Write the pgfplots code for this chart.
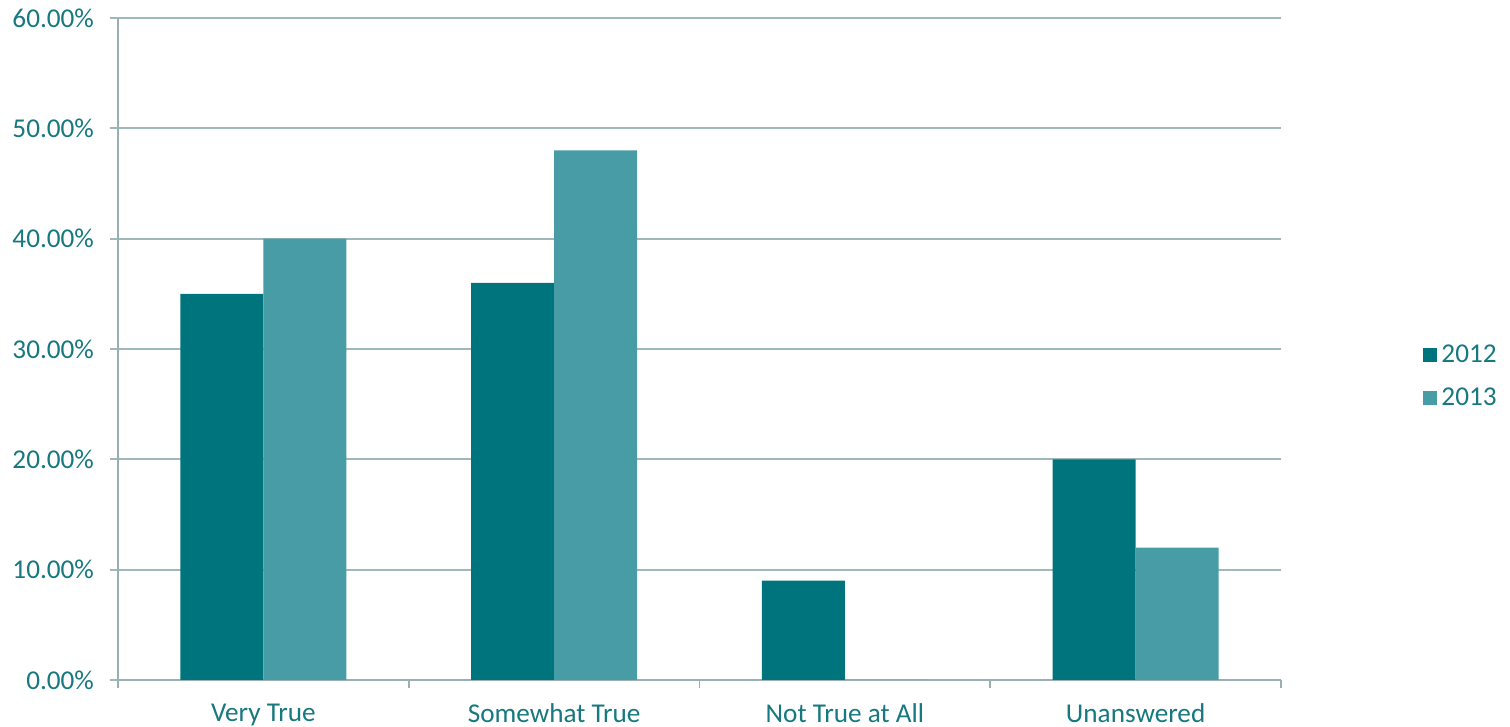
\documentclass[border=0pt]{standalone}
\usepackage{pgfplots}
\pgfplotsset{compat=1.18}
\usepackage{fontspec}
\setmainfont{Carlito}
\definecolor{txt}{HTML}{17787F}
\definecolor{gridc}{HTML}{9FB8BB}
\definecolor{axc}{HTML}{9AAFB2}
\definecolor{cA}{HTML}{00747C}
\definecolor{cB}{HTML}{479CA5}
% shares of answers, in percent, for each category (category centres at 0.5, 1.5, ...)
\pgfplotstableread{
idx y2012 y2013
0.5 35 40
1.5 36 48
2.5 9 0
3.5 20 12
}\survey
\begin{document}
\begin{tikzpicture}[x=0.5pt,y=0.5pt]
\path[use as bounding box] (-118,-47) rectangle (1392,680);
\begin{axis}[
  at={(0,0)}, anchor=origin,
  scale only axis, width=581.5pt, height=331pt,
  xmin=0, xmax=4, ymin=0, ymax=60,
  ybar=0pt, bar width=41.5pt,
  axis x line*=bottom, axis y line*=left,
  axis line style={axc, line width=0.9pt},
  xtick={0.5,1.5,2.5,3.5},
  xticklabels={Very True,Somewhat True,Not True at All,Unanswered},
  minor xtick={0,1,2,3,4},
  major x tick style={draw=none},
  minor tick length=4pt,
  tick align=outside,
  ytick={0,10,20,30,40,50,60},
  major tick length=4pt,
  y tick style={gridc, line width=0.9pt},
  minor x tick style={axc, line width=0.9pt},
  ymajorgrids, grid style={gridc, line width=0.9pt},
  yticklabel={\pgfmathprintnumber[fixed,fixed zerofill,precision=2]{\tick}\%},
  /pgf/number format/assume math mode=true,
  tick label style={font=\fontsize{13.6}{15}\selectfont, text=txt},
  xticklabel style={yshift=-4.5pt},
  yticklabel style={xshift=-4.5pt},
  legend style={draw=none, fill=none, at={(1.117,0.458)}, anchor=west,
    font=\fontsize{13.6}{15}\selectfont, text=txt, row sep=7pt},
  legend image code/.code={\fill[#1] (0pt,-3.5pt) rectangle (7pt,3.5pt);},
]
\addplot[fill=cA, draw=none] table[x=idx, y=y2012] {\survey};
\addplot[fill=cB, draw=none] table[x=idx, y=y2013] {\survey};
\legend{2012,2013}
\end{axis}
\end{tikzpicture}
\end{document}
